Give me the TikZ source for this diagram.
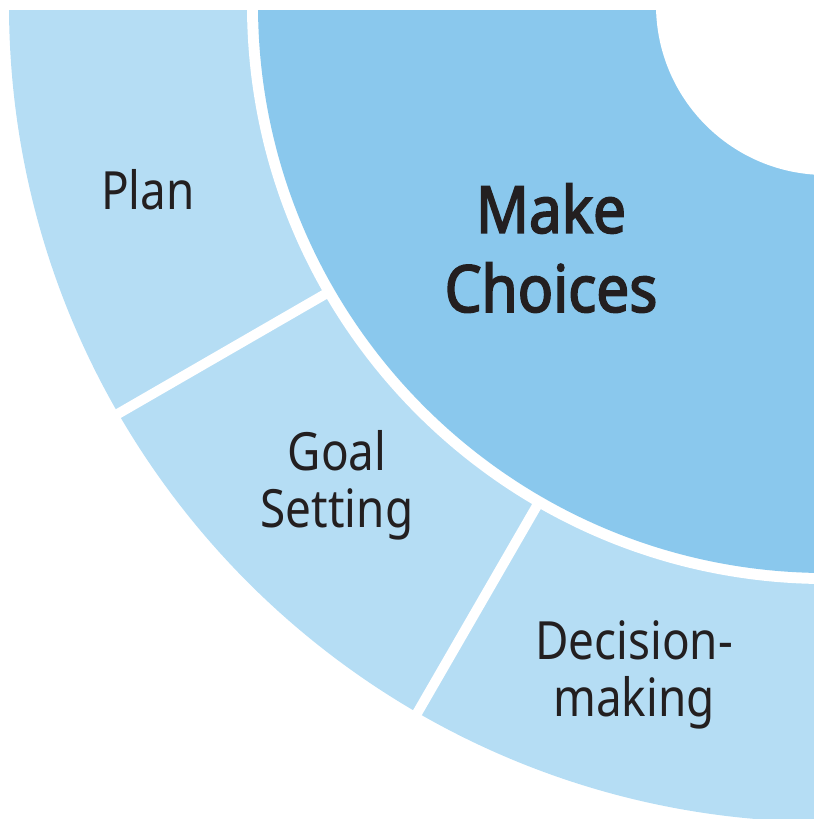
\documentclass[tikz,border=0pt]{standalone}
\usepackage{fontspec}
\setmainfont{Noto Sans}[FakeStretch=0.87]
\newfontfamily\corefont{Noto Sans}[FakeStretch=0.9, FakeBold=2.6]
\definecolor{ringLight}{HTML}{B5DDF4}
\definecolor{ringDark}{HTML}{8AC8ED}
\definecolor{labelInk}{HTML}{231F20}

\begin{document}
\begin{tikzpicture}[
    step label/.style={text=labelInk, align=center, font=\fontsize{15}{16.2}\selectfont},
    core label/.style={text=labelInk, align=center, font=\fontsize{18.5}{22.5}\selectfont\corefont},
    gap line/.style={white, line width=0.1cm}
  ]
    \useasboundingbox (0,0) rectangle (8.14,-8.19);
    \coordinate (c) at (8.26,-0.05);
    \begin{scope}
        \clip (0,-0.10) rectangle (8.14,-8.19);
        \fill[ringLight] (c) circle (8.17);
        \fill[white] (c) circle (5.79);
        \fill[ringDark] (c) circle (5.68);
        \fill[white] (c) circle (1.70);
        \draw[gap line] (c) ++(210:5.70) -- ++(210:2.70);
        \draw[gap line] (c) ++(240:5.70) -- ++(240:2.70);
    \end{scope}
    \node[core label] (choices) at (5.51,-2.48) {Make\\Choices};
    \node[step label] (plan) at (1.48,-1.90) {Plan};
    \node[step label] (goal) at (3.37,-4.85) {Goal\\Setting};
    \node[step label] (decision) at (6.34,-6.75) {Decision-\\making};
\end{tikzpicture}
\end{document}
